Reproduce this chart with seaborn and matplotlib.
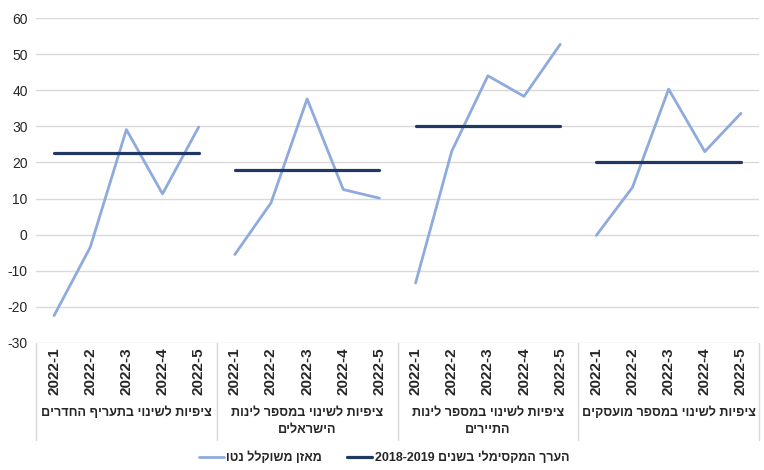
import re
import numpy as np
import pandas as pd
import matplotlib
matplotlib.use("Agg")
import matplotlib.pyplot as plt
from matplotlib.lines import Line2D
import seaborn as sns

# ---- data -------------------------------------------------------------
groups = [
    "ציפיות לשינוי בתעריף החדרים",
    "ציפיות לשינוי במספר לינות\nהישראלים",
    "ציפיות לשינוי במספר לינות\nהתיירים",
    "ציפיות לשינוי במספר מועסקים",
]
periods = ["2022-1", "2022-2", "2022-3", "2022-4", "2022-5"]

room_rates = [-22.4, -3.5, 29.1, 11.3, 29.8]
israeli_nights = [-5.5, 8.8, 37.6, 12.5, 10.1]
tourist_nights = [-13.4, 23.1, 44.0, 38.3, 52.7]
employees = [-0.2, 13.1, 40.3, 23.0, 33.6]

max_2018_2019 = [22.6, 17.8, 30.0, 20.2]

y_ticks = [-30, -20, -10, 0, 10, 20, 30, 40, 50, 60]

series_label = "מאזן משוקלל נטו"
max_label = "הערך המקסימלי בשנים 2018-2019"

# ---- helpers ----------------------------------------------------------
def visual(text):
    """Right-to-left text laid out for a left-to-right renderer."""
    out = []
    for line in text.split("\n"):
        rev = line[::-1]
        rev = re.sub(r"[0-9][0-9\-\.]*[0-9]", lambda m: m.group(0)[::-1], rev)
        out.append(rev)
    return "\n".join(out)

# ---- frames -----------------------------------------------------------
all_series = [room_rates, israeli_nights, tourist_nights, employees]
n_per = len(periods)
rows = []
for gi, vals in enumerate(all_series):
    for pi, v in enumerate(vals):
        rows.append({"group": gi, "pos": gi * n_per + pi, "value": v})
balance_df = pd.DataFrame(rows)

max_rows = []
for gi, m in enumerate(max_2018_2019):
    max_rows.append({"group": gi, "pos": gi * n_per, "value": m})
    max_rows.append({"group": gi, "pos": gi * n_per + n_per - 1, "value": m})
max_df = pd.DataFrame(max_rows)

# ---- style ------------------------------------------------------------
sns.set_style("white")
plt.rcParams["font.family"] = ["Liberation Sans", "DejaVu Sans"]

light = "#8FAADC"
navy = "#203864"
grid_c = "#D9D9D9"
text_c = "#262626"

fig = plt.figure(figsize=(7.64, 4.70), dpi=100)
W, H = 764, 470
ax_l, ax_r, ax_t, ax_b = 36, 759, 18, 343
ax = fig.add_axes([ax_l / W, 1 - ax_b / H, (ax_r - ax_l) / W, (ax_b - ax_t) / H])

sns.lineplot(data=balance_df, x="pos", y="value", units="group",
             estimator=None, color=light, lw=2.0, ax=ax, legend=False)
sns.lineplot(data=max_df, x="pos", y="value", units="group",
             estimator=None, color=navy, lw=2.3, ax=ax, legend=False)

ax.set_xlim(-0.5, len(groups) * n_per - 0.5)
ax.set_ylim(-30, 60)
ax.set_yticks(y_ticks)
ax.set_yticklabels([str(t) for t in y_ticks], fontsize=10, color=text_c)
ax.tick_params(axis="y", length=0, pad=6)
ax.yaxis.grid(True, color=grid_c, lw=1.0)
ax.set_axisbelow(True)
for s in ax.spines.values():
    s.set_visible(False)
ax.set_xlabel("")
ax.set_ylabel("")

# period tick labels
ax.set_xticks(range(len(groups) * n_per))
ax.set_xticklabels(periods * len(groups), rotation=90, fontsize=11,
                   fontweight="bold", color=text_c)
ax.tick_params(axis="x", length=0, pad=3)

# category boxes below the axis
box_bottom = -(440 - ax_b) / (ax_b - ax_t)
xt = ax.get_xaxis_transform()
for gi in range(len(groups) + 1):
    ax.plot([gi * n_per - 0.5] * 2, [0, box_bottom], transform=xt,
            color=grid_c, lw=1.0, clip_on=False)

for gi, g in enumerate(groups):
    ax.text(gi * n_per + (n_per - 1) / 2, -(407 - ax_b) / (ax_b - ax_t),
            visual(g), transform=xt, ha="center", va="top",
            multialignment="center", fontsize=9.1, fontweight="bold",
            color=text_c, linespacing=1.55)

# legend
handles = [
    Line2D([], [], color=light, lw=2.0),
    Line2D([], [], color=navy, lw=2.3),
]
fig.legend(handles, [visual(series_label), visual(max_label)],
           loc="center", bbox_to_anchor=(384 / W, 1 - 458 / H), ncol=2,
           frameon=False, handlelength=2.0, handletextpad=0.2,
           columnspacing=2.0,
           prop={"size": 9, "weight": "bold"}, labelcolor=text_c)

fig.savefig("out.png", dpi=100)
